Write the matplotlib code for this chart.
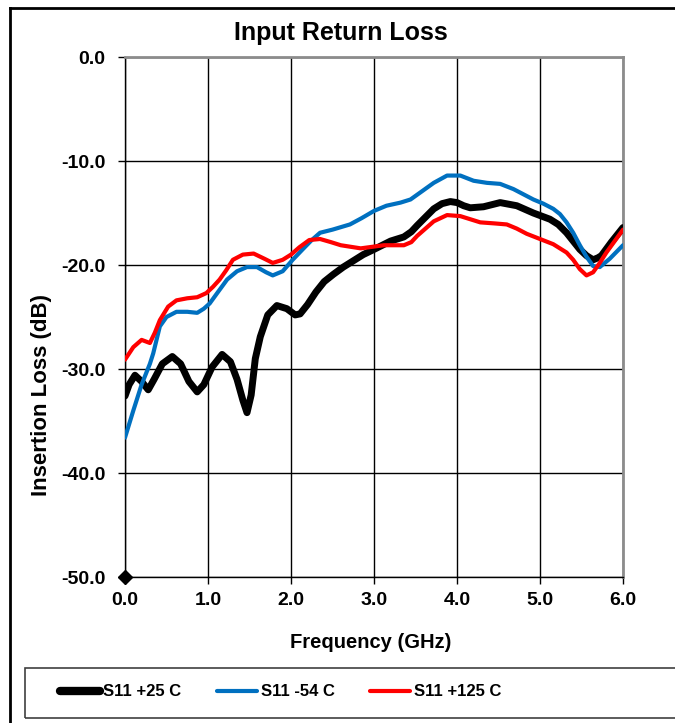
import matplotlib
matplotlib.use("Agg")
import matplotlib.pyplot as plt
from matplotlib.lines import Line2D
from matplotlib.patches import Rectangle

plt.rcParams['font.family'] = ['Liberation Sans', 'DejaVu Sans']
plt.rcParams['font.weight'] = 'bold'

# ---- data ----
freq_25 = [0.0, 0.05, 0.12, 0.2, 0.28, 0.35, 0.45, 0.57, 0.67, 0.77, 0.87, 0.95, 1.05, 1.17,
           1.27, 1.35, 1.42, 1.47, 1.52, 1.57, 1.63, 1.72, 1.83, 1.95, 2.05, 2.11, 2.2, 2.3,
           2.4, 2.51, 2.63, 2.75, 2.87, 3.0, 3.1, 3.2, 3.36, 3.45, 3.52, 3.62, 3.72, 3.82,
           3.92, 4.0, 4.08, 4.16, 4.32, 4.52, 4.72, 4.92, 5.12, 5.22, 5.32, 5.4, 5.48, 5.56,
           5.64, 5.7, 5.74, 5.86, 6.0]
s11_25 = [-32.6, -31.5, -30.6, -31.2, -32.0, -31.0, -29.5, -28.8, -29.5, -31.2, -32.2, -31.5,
          -29.8, -28.6, -29.3, -31.0, -33.0, -34.2, -32.5, -29.0, -26.9, -24.8, -23.9, -24.2,
          -24.8, -24.7, -23.8, -22.6, -21.6, -20.9, -20.2, -19.6, -19.0, -18.5, -18.1, -17.7,
          -17.3, -16.8, -16.2, -15.4, -14.6, -14.1, -13.9, -14.0, -14.3, -14.5, -14.4, -14.0,
          -14.3, -15.0, -15.6, -16.1, -16.9, -17.7, -18.5, -19.1, -19.5, -19.3, -19.1, -17.8,
          -16.4]

freq_m54 = [0.0, 0.1, 0.2, 0.3, 0.34, 0.42, 0.5, 0.62, 0.75, 0.87, 0.95, 1.02, 1.12, 1.23,
            1.35, 1.47, 1.59, 1.7, 1.78, 1.9, 2.02, 2.14, 2.25, 2.35, 2.5, 2.71, 2.85, 3.0,
            3.15, 3.32, 3.44, 3.58, 3.72, 3.88, 4.04, 4.2, 4.36, 4.52, 4.68, 4.8, 4.92, 5.04,
            5.16, 5.24, 5.32, 5.4, 5.48, 5.56, 5.64, 5.72, 5.84, 6.0]
s11_m54 = [-36.6, -34.0, -31.5, -29.5, -28.5, -25.9, -25.0, -24.5, -24.5, -24.6, -24.2, -23.7,
           -22.6, -21.4, -20.6, -20.2, -20.2, -20.7, -21.0, -20.6, -19.5, -18.5, -17.6, -16.9,
           -16.6, -16.1, -15.5, -14.8, -14.3, -14.0, -13.7, -12.9, -12.1, -11.4, -11.4, -11.9,
           -12.1, -12.2, -12.7, -13.2, -13.7, -14.1, -14.6, -15.1, -15.9, -16.9, -18.1, -19.2,
           -20.1, -20.2, -19.4, -18.1]

freq_125 = [0.0, 0.1, 0.2, 0.3, 0.36, 0.42, 0.52, 0.62, 0.75, 0.87, 0.98, 1.06, 1.14, 1.22,
            1.3, 1.42, 1.55, 1.68, 1.78, 1.9, 2.0, 2.1, 2.22, 2.35, 2.48, 2.6, 2.84, 3.12,
            3.36, 3.45, 3.52, 3.62, 3.72, 3.88, 4.04, 4.16, 4.28, 4.45, 4.6, 4.72, 4.84, 5.0,
            5.16, 5.32, 5.4, 5.48, 5.56, 5.64, 5.72, 5.8, 5.9, 6.0]
s11_125 = [-29.1, -27.9, -27.2, -27.5, -26.5, -25.3, -24.0, -23.4, -23.2, -23.1, -22.7, -22.1,
           -21.4, -20.5, -19.5, -19.0, -18.9, -19.4, -19.8, -19.5, -19.0, -18.3, -17.6, -17.5,
           -17.8, -18.1, -18.4, -18.1, -18.1, -17.8, -17.2, -16.5, -15.8, -15.2, -15.3, -15.6,
           -15.9, -16.0, -16.1, -16.5, -17.0, -17.5, -18.0, -18.8, -19.5, -20.4, -21.0, -20.7,
           -19.8, -18.8, -17.7, -16.6]

marker_x = [0.0]
marker_y = [-50.0]

x_ticks = [0.0, 1.0, 2.0, 3.0, 4.0, 5.0, 6.0]
y_ticks = [0.0, -10.0, -20.0, -30.0, -40.0, -50.0]
labels = ['S11 +25 C', 'S11 -54 C', 'S11 +125 C']

W, H = 675, 723
fig = plt.figure(figsize=(W / 100, H / 100), dpi=100)
ax = fig.add_axes([125 / W, 1 - 577 / H, (623 - 125) / W, (577 - 57) / H])

l1, = ax.plot(freq_25, s11_25, color='black', lw=5.0, solid_capstyle='round', zorder=3)
l2, = ax.plot(freq_m54, s11_m54, color='#0070C0', lw=3.0, solid_capstyle='round', zorder=4)
l3, = ax.plot(freq_125, s11_125, color='#FF0000', lw=3.0, solid_capstyle='round', zorder=5)
ax.plot(marker_x, marker_y, marker='D', color='black', ms=7, ls='none', clip_on=False, zorder=6)

ax.set_xlim(0, 6)
ax.set_ylim(-50, 0)
ax.set_xticks(x_ticks)
ax.set_yticks(y_ticks)
ax.set_xticklabels([f'{v:.1f}' for v in x_ticks], fontsize=14, fontweight='bold')
ax.set_yticklabels([f'{v:.1f}' for v in y_ticks], fontsize=14, fontweight='bold')
ax.tick_params(axis='both', direction='out', length=5, width=1, color='black')
ax.tick_params(axis='x', pad=6)
ax.tick_params(axis='y', pad=9)
ax.grid(True, color='black', lw=1.0)
ax.set_axisbelow(True)
for s in ['left', 'bottom']:
    ax.spines[s].set_color('black')
    ax.spines[s].set_linewidth(1.0)
for s in ['top', 'right']:
    ax.spines[s].set_color('#8c8c8c')
    ax.spines[s].set_linewidth(2.0)

fig.text(371 / W, 1 - 643 / H, 'Frequency (GHz)', ha='center', va='center',
         fontsize=14.5, fontweight='bold')
fig.text(42 / W, 1 - 395 / H, 'Insertion Loss (dB)', ha='center', va='center',
         rotation=90, fontsize=16, fontweight='bold')
fig.text(341 / W, 1 - 33 / H, 'Input Return Loss', ha='center', va='center',
         fontsize=18, fontweight='bold')

# outer frame
fig.add_artist(Line2D([10 / W, 10 / W], [0, 1 - 8 / H], color='black', lw=2,
                      transform=fig.transFigure))
fig.add_artist(Line2D([10 / W, 1.0], [1 - 8 / H, 1 - 8 / H], color='black', lw=2,
                      transform=fig.transFigure))
# legend box
fig.add_artist(Rectangle((25 / W, 1 - 718 / H), 1.0, (718 - 668) / H, fill=False,
                         edgecolor='#404040', lw=1.2, transform=fig.transFigure))
leg = fig.legend([l1, l2, l3], labels, loc='center left', bbox_to_anchor=(45 / W, 1 - 692 / H),
                 ncol=3, frameon=False, handlelength=2.4, handletextpad=0.2,
                 columnspacing=2.15, prop={'weight': 'bold', 'size': 12})
leg.get_lines()[0].set_linewidth(6)

fig.savefig('out.png', dpi=100)
